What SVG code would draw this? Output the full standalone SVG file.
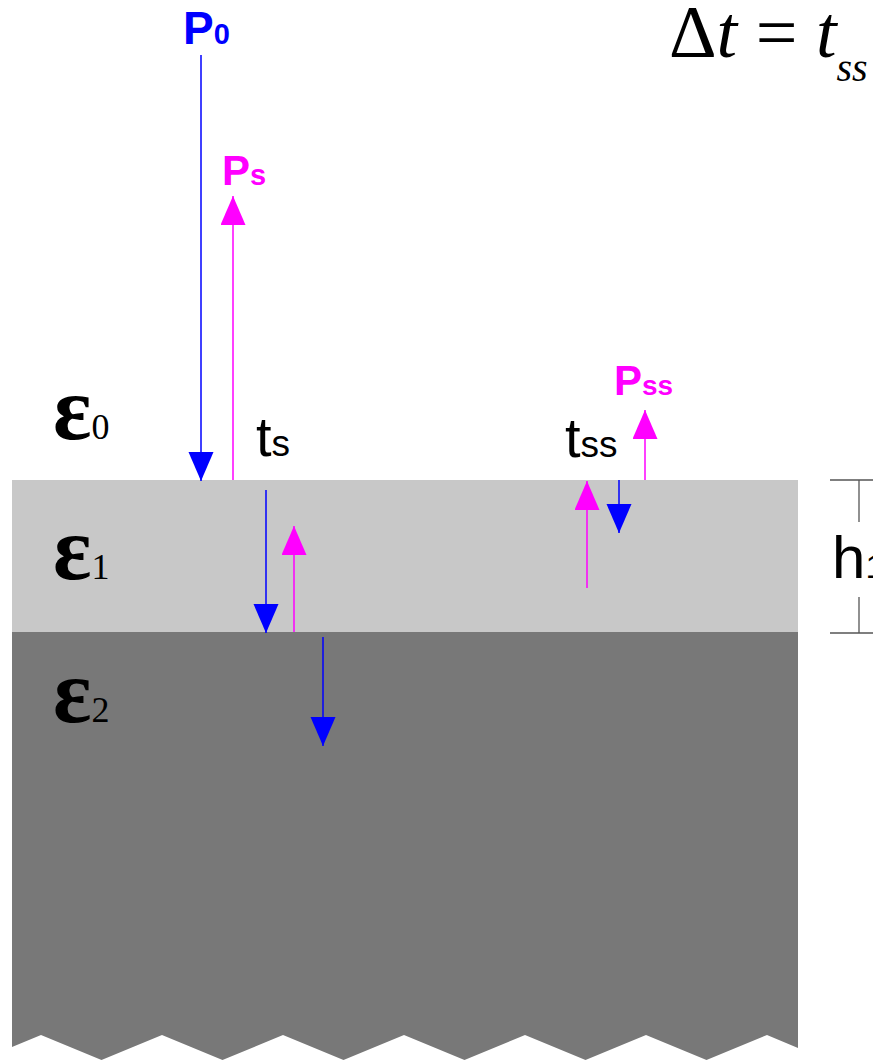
<svg xmlns="http://www.w3.org/2000/svg" width="873" height="1060" viewBox="0 0 873 1060">
<style>
.sans{font-family:"Liberation Sans",Arial,sans-serif}
.serif{font-family:"Liberation Serif","Times New Roman",serif}
.blue{stroke:#0000ff;stroke-width:1.5;fill:none}
.mag{stroke:#ff00ff;stroke-width:1.5;fill:none}
.dim{stroke:#555;stroke-width:1.3;fill:none}
</style>
<defs>
<marker id="hb" markerUnits="userSpaceOnUse" markerWidth="30" markerHeight="26" refX="29" refY="12.5" orient="auto" viewBox="0 0 30 26"><path d="M0,0 L29,12.5 L0,25 z" fill="#0000ff"/></marker>
<marker id="hm" markerUnits="userSpaceOnUse" markerWidth="30" markerHeight="26" refX="29" refY="12.5" orient="auto" viewBox="0 0 30 26"><path d="M0,0 L29,12.5 L0,25 z" fill="#ff00ff"/></marker>
</defs>
<rect width="873" height="1060" fill="#ffffff"/>
<g id="layer2">
<path d="M12,632 H798 V1048 L767,1035 L706.5,1060 L646,1035 L585.5,1060 L525,1035 L464.5,1060 L404,1035 L343.5,1060 L283,1035 L222.5,1060 L162,1035 L101.5,1060 L41,1035 L12,1047 Z" fill="#787878"/>
</g>
<g id="layer1">
<rect x="12" y="480" width="786" height="152" fill="#c8c8c8"/>
</g>
<g id="connectors">
<line class="blue" x1="201" y1="55" x2="201" y2="481" marker-end="url(#hb)"/>
<line class="mag" x1="233" y1="480" x2="233" y2="196" marker-end="url(#hm)"/>
<line class="blue" x1="266" y1="490" x2="266" y2="633" marker-end="url(#hb)"/>
<line class="mag" x1="294" y1="632" x2="294" y2="526" marker-end="url(#hm)"/>
<line class="blue" x1="323" y1="637" x2="323" y2="746" marker-end="url(#hb)"/>
<line class="mag" x1="587" y1="588" x2="587" y2="481" marker-end="url(#hm)"/>
<line class="blue" x1="619" y1="480" x2="619" y2="533" marker-end="url(#hb)"/>
<line class="mag" x1="645" y1="480" x2="645" y2="410" marker-end="url(#hm)"/>
</g>
<g id="dimension">
<line class="dim" x1="830" y1="480" x2="873" y2="480"/>
<line class="dim" x1="830" y1="633" x2="873" y2="633"/>
<line class="dim" x1="859" y1="480" x2="859" y2="522"/>
<line class="dim" x1="859" y1="597" x2="859" y2="633"/>
<text class="sans" x="832" y="578" font-size="60" fill="#000">h<tspan font-size="34">1</tspan></text>
</g>
<g id="labels">
<text id="P0" class="sans" x="183" y="44" font-size="46" font-weight="bold" fill="#0000ff">P<tspan font-size="29">0</tspan></text>
<text id="Ps" class="sans" x="222" y="185" font-size="42" font-weight="bold" fill="#ff00ff">P<tspan font-size="29">s</tspan></text>
<text id="Pss" class="sans" x="614" y="395" font-size="42" font-weight="bold" fill="#ff00ff">P<tspan font-size="28">ss</tspan></text>
<text id="ts" class="sans" x="256" y="456" font-size="56" fill="#000">t<tspan font-size="37">s</tspan></text>
<text id="tss" class="sans" x="565" y="457" font-size="56" fill="#000">t<tspan font-size="37">ss</tspan></text>
<text id="e0" class="serif" x="53" y="439" font-size="90" font-weight="bold" fill="#000">ε<tspan font-size="36" font-weight="normal">0</tspan></text>
<text id="e1" class="serif" x="53" y="579" font-size="90" font-weight="bold" fill="#000">ε<tspan font-size="36" font-weight="normal">1</tspan></text>
<text id="e2" class="serif" x="53" y="722" font-size="90" font-weight="bold" fill="#000">ε<tspan font-size="36" font-weight="normal">2</tspan></text>
<text id="eq" class="serif" x="669" y="57" font-size="74" fill="#000">Δ<tspan font-style="italic">t</tspan> = <tspan font-style="italic">t</tspan><tspan font-style="italic" font-size="40" dy="24">ss</tspan></text>
</g>
</svg>
